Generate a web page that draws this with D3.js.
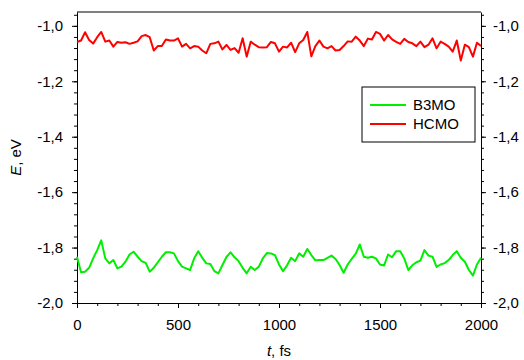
<!DOCTYPE html>
<html>
<head>
<meta charset="utf-8">
<script src="https://cdn.jsdelivr.net/npm/d3@7"></script>
<style>
  body { margin: 0; background: #fff; }
  svg { display: block; font-family: "Liberation Sans", Arial, sans-serif; }
</style>
</head>
<body>
<svg id="chart"></svg>
<script>
// time step of the samples, fs
var timeStep = 20;

var hcmo = [
  -1.058, -1.053, -1.023, -1.051, -1.064, -1.041, -1.022, -1.057, -1.053, -1.075,
  -1.058, -1.061, -1.059, -1.065, -1.061, -1.056, -1.037, -1.033, -1.041, -1.089,
  -1.073, -1.073, -1.049, -1.053, -1.053, -1.045, -1.075, -1.065, -1.081, -1.073,
  -1.075, -1.089, -1.099, -1.065, -1.063, -1.057, -1.085, -1.069, -1.087, -1.080,
  -1.097, -1.045, -1.111, -1.057, -1.068, -1.077, -1.078, -1.077, -1.058, -1.063,
  -1.093, -1.075, -1.078, -1.061, -1.095, -1.063, -1.051, -1.022, -1.110, -1.073,
  -1.053, -1.075, -1.081, -1.073, -1.089, -1.087, -1.073, -1.056, -1.057, -1.039,
  -1.053, -1.073, -1.046, -1.049, -1.022, -1.029, -1.053, -1.033, -1.049, -1.058,
  -1.065, -1.047, -1.058, -1.063, -1.073, -1.057, -1.077, -1.068, -1.045, -1.081,
  -1.057, -1.065, -1.075, -1.093, -1.053, -1.125, -1.068, -1.077, -1.111, -1.061,
  -1.073
];

var b3mo = [
  -1.833, -1.889, -1.887, -1.873, -1.839, -1.809, -1.774, -1.839, -1.857, -1.845,
  -1.875, -1.869, -1.851, -1.825, -1.815, -1.833, -1.849, -1.855, -1.887, -1.873,
  -1.853, -1.833, -1.817, -1.817, -1.821, -1.849, -1.869, -1.875, -1.881, -1.839,
  -1.813, -1.837, -1.857, -1.859, -1.885, -1.893, -1.863, -1.834, -1.817, -1.835,
  -1.849, -1.873, -1.893, -1.869, -1.881, -1.869, -1.839, -1.820, -1.821, -1.827,
  -1.861, -1.885, -1.864, -1.837, -1.849, -1.821, -1.833, -1.805, -1.827, -1.846,
  -1.845, -1.845, -1.837, -1.829, -1.841, -1.863, -1.891, -1.861, -1.841, -1.822,
  -1.789, -1.833, -1.837, -1.833, -1.839, -1.861, -1.865, -1.825, -1.835, -1.813,
  -1.813, -1.839, -1.881, -1.864, -1.853, -1.847, -1.809, -1.829, -1.833, -1.870,
  -1.861, -1.856, -1.845, -1.827, -1.813, -1.837, -1.851, -1.881, -1.901, -1.861,
  -1.837
];

var seriesNames = ["B3MO", "HCMO"];
var seriesColors = ["#00ee00", "#ff0000"];

var xTicks = [0, 500, 1000, 1500, 2000];
var yTicks = [-2.0, -1.8, -1.6, -1.4, -1.2, -1.0];

var width = 524, height = 360;
var margin = {top: 12, right: 43, bottom: 57, left: 77};

var svg = d3.select("#chart")
    .attr("width", width)
    .attr("height", height);

var x = d3.scaleLinear()
    .domain([0, 2000])
    .range([margin.left, width - margin.right]);

var y = d3.scaleLinear()
    .domain([-2.0, -0.95])
    .range([height - margin.bottom, margin.top]);

function fmt(v) {
    return v.toFixed(1).replace(".", ",");
}

var minorX = d3.range(0, 2001, 100);
var minorY = d3.range(-2.0, -0.949, 0.04);

// bottom axis
svg.append("g")
    .attr("transform", "translate(0," + y(-2.0) + ")")
    .call(d3.axisBottom(x).tickValues(minorX).tickSize(3).tickFormat(""))
    .call(function (g) { g.select(".domain").remove(); });
svg.append("g")
    .attr("class", "xaxis")
    .attr("transform", "translate(0," + y(-2.0) + ")")
    .call(d3.axisBottom(x).tickValues(xTicks).tickSize(5).tickSizeOuter(0).tickPadding(11).tickFormat(d3.format("d")));

// left axis
svg.append("g")
    .attr("transform", "translate(" + x(0) + ",0)")
    .call(d3.axisLeft(y).tickValues(minorY).tickSize(3).tickFormat(""))
    .call(function (g) { g.select(".domain").remove(); });
svg.append("g")
    .attr("transform", "translate(" + x(0) + ",0)")
    .call(d3.axisLeft(y).tickValues(yTicks).tickSize(5).tickSizeOuter(0).tickPadding(9).tickFormat(fmt));

// right axis
svg.append("g")
    .attr("transform", "translate(" + x(2000) + ",0)")
    .call(d3.axisRight(y).tickValues(minorY).tickSize(3).tickFormat(""))
    .call(function (g) { g.select(".domain").remove(); });
svg.append("g")
    .attr("transform", "translate(" + x(2000) + ",0)")
    .call(d3.axisRight(y).tickValues(yTicks).tickSize(5).tickSizeOuter(0).tickPadding(7).tickFormat(fmt));

// top border
svg.append("line")
    .attr("x1", x(0)).attr("x2", x(2000))
    .attr("y1", y(-0.95)).attr("y2", y(-0.95))
    .attr("stroke", "#000");

svg.selectAll(".tick text")
    .style("font-size", "15px")
    .attr("fill", "#000");
svg.selectAll(".domain, .tick line").attr("stroke", "#000");

var line = d3.line()
    .x(function (d, i) { return x(i * timeStep); })
    .y(function (d) { return y(d); });

[b3mo, hcmo].forEach(function (s, k) {
    svg.append("path")
        .datum(s)
        .attr("fill", "none")
        .attr("stroke", seriesColors[k])
        .attr("stroke-width", 2)
        .attr("stroke-linejoin", "round")
        .attr("d", line);
});

// legend
var lg = svg.append("g").attr("transform", "translate(362,87)");
lg.append("rect")
    .attr("width", 113).attr("height", 55)
    .attr("fill", "#fff").attr("stroke", "#000");
seriesNames.forEach(function (name, k) {
    var yy = 18 + k * 19;
    lg.append("line")
        .attr("x1", 8).attr("x2", 44)
        .attr("y1", yy).attr("y2", yy)
        .attr("stroke", seriesColors[k]).attr("stroke-width", 2);
    lg.append("text")
        .attr("x", 51).attr("y", yy + 5)
        .style("font-size", "15px")
        .text(name);
});

// axis titles
var xt = svg.append("text")
    .attr("x", (x(0) + x(2000)) / 2)
    .attr("y", 356)
    .attr("text-anchor", "middle")
    .style("font-size", "15px");
xt.append("tspan").style("font-style", "italic").text("t");
xt.append("tspan").text(", fs");

var yt = svg.append("text")
    .attr("transform", "translate(21," + ((y(-2.0) + y(-0.95)) / 2) + ") rotate(-90)")
    .attr("text-anchor", "middle")
    .style("font-size", "15px");
yt.append("tspan").style("font-style", "italic").text("E");
yt.append("tspan").text(", eV");
</script>
</body>
</html>
